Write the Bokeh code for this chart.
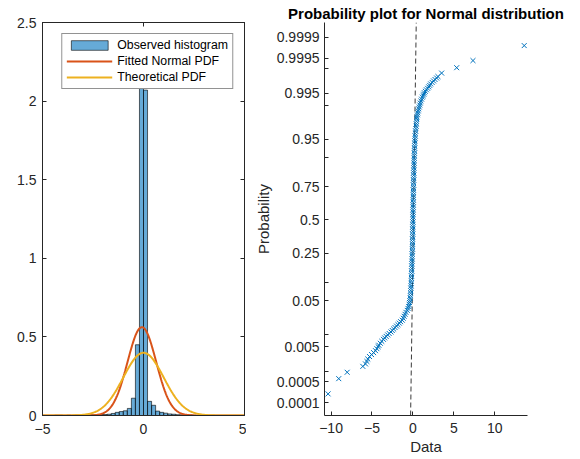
import numpy as np
from statistics import NormalDist
from bokeh.plotting import figure
from bokeh.layouts import row
from bokeh.models import Range1d, FixedTicker, LinearAxis, CustomJSTickFormatter
from bokeh.embed import file_html
from bokeh.resources import INLINE

# ---------------- data: left panel (histogram, pdf density) ----------------
bin_width = 0.2
hist_first_edge = -4.4
hist_density = [0.002, 0.002, 0.0, 0.002, 0.0, 0.002, 0.0, 0.004, 0.002, 0.004,
                0.004, 0.006, 0.006, 0.008, 0.013, 0.02, 0.025, 0.03, 0.045, 0.11,
                0.45, 2.2, 2.07, 0.09, 0.065, 0.028, 0.02, 0.015, 0.01, 0.008,
                0.005, 0.004, 0.002, 0.004, 0.002, 0.0, 0.002]
fitted_mu = -0.08
fitted_sigma = 0.71
theor_mu = 0.0
theor_sigma = 1.0
left_xticks = [-5, 0, 5]
left_yticks = [0, 0.5, 1, 1.5, 2, 2.5]

# ---------------- data: right panel (normal probability plot) ----------------
lower_quantile = [-3.54, -3.23, -3.10, -2.98, -2.93, -2.88, -2.83, -2.78, -2.74, -2.70,
                  -2.66, -2.62, -2.58, -2.55, -2.51, -2.47, -2.43, -2.40, -2.37, -2.34,
                  -2.31, -2.28, -2.25, -2.22, -2.19, -2.16, -2.13, -2.10, -2.07, -2.04,
                  -2.00, -1.96, -1.92, -1.88, -1.84, -1.80, -1.76, -1.72, -1.68, -1.64]
lower_data = [-10.36, -9.06, -8.03, -6.12, -5.79, -5.62, -5.51, -5.30, -5.05, -4.80,
              -4.57, -4.40, -4.25, -4.16, -3.98, -3.80, -3.60, -3.45, -3.27, -3.08,
              -2.90, -2.68, -2.52, -2.35, -2.18, -2.00, -1.83, -1.66, -1.50, -1.30,
              -1.18, -1.07, -0.96, -0.85, -0.69, -0.60, -0.52, -0.46, -0.41, -0.37]
center_quantile = [-1.59, -1.54, -1.49, -1.44, -1.39, -1.34, -1.29, -1.24, -1.19, -1.14,
                   -1.09, -1.04, -0.99, -0.94, -0.89, -0.84, -0.79, -0.74, -0.69, -0.64,
                   -0.59, -0.54, -0.49, -0.44, -0.39, -0.34, -0.29, -0.24, -0.19, -0.14,
                   -0.09, -0.04, 0.01, 0.06, 0.11, 0.16, 0.21, 0.26, 0.31, 0.36,
                   0.41, 0.46, 0.51, 0.56, 0.61, 0.66, 0.71, 0.76, 0.81, 0.86,
                   0.91, 0.96, 1.01, 1.06, 1.11, 1.16, 1.21, 1.26, 1.31, 1.36,
                   1.41, 1.46, 1.51, 1.56, 1.61, 1.66, 1.71, 1.76, 1.81, 1.86,
                   1.91, 1.96, 2.01, 2.06]
center_data = [-0.33, -0.30, -0.28, -0.26, -0.24, -0.22, -0.21, -0.19, -0.18, -0.17,
               -0.16, -0.15, -0.14, -0.13, -0.12, -0.11, -0.10, -0.09, -0.08, -0.07,
               -0.06, -0.06, -0.05, -0.04, -0.04, -0.03, -0.03, -0.02, -0.02, -0.01,
               -0.01, 0.00, 0.00, 0.01, 0.01, 0.02, 0.02, 0.03, 0.03, 0.04,
               0.04, 0.05, 0.05, 0.06, 0.06, 0.07, 0.07, 0.08, 0.08, 0.09,
               0.10, 0.10, 0.11, 0.12, 0.13, 0.14, 0.15, 0.16, 0.17, 0.18,
               0.19, 0.20, 0.21, 0.23, 0.24, 0.26, 0.28, 0.30, 0.33, 0.36,
               0.39, 0.42, 0.44, 0.47]
upper_quantile = [2.10, 2.14, 2.18, 2.22, 2.26, 2.30, 2.34, 2.38, 2.42, 2.46,
                  2.50, 2.53, 2.56, 2.59, 2.62, 2.65, 2.68, 2.71, 2.74, 2.77,
                  2.80, 2.83, 2.86, 2.89, 2.92, 2.99, 3.10, 3.245, 3.55]
upper_data = [0.50, 0.55, 0.60, 0.65, 0.72, 0.78, 0.84, 0.90, 0.98, 1.06,
              1.15, 1.25, 1.33, 1.40, 1.52, 1.65, 1.80, 1.93, 2.05, 2.17,
              2.35, 2.52, 2.70, 2.90, 3.06, 3.51, 5.35, 7.34, 13.6]
ref_intercept = 0.062
ref_slope = 0.086
prob_major = [0.0001, 0.0005, 0.005, 0.05, 0.25, 0.5, 0.75, 0.95, 0.995, 0.9995, 0.9999]
prob_labels = ["0.0001", "0.0005", "0.005", "0.05", "0.25", "0.5", "0.75", "0.95",
               "0.995", "0.9995", "0.9999"]
prob_minor = [0.001, 0.01, 0.1, 0.9, 0.99, 0.999]
right_xticks = [-10, -5, 0, 5, 10]

FONT = "Liberation Sans"
AX = "#262626"


def style_axis(ax, tick_size="14px"):
    ax.axis_line_color = AX
    ax.axis_line_width = 1
    ax.major_tick_line_color = AX
    ax.major_tick_in = 4
    ax.major_tick_out = 0
    ax.minor_tick_line_color = None
    ax.major_label_text_font = FONT
    ax.major_label_text_font_size = tick_size
    ax.major_label_text_color = AX
    ax.axis_label_text_font = FONT
    ax.axis_label_text_font_size = "15px"
    ax.axis_label_text_font_style = "normal"
    ax.axis_label_text_color = AX


# ---------------- left figure ----------------
p1 = figure(width=246, height=458, x_range=Range1d(-5, 5), y_range=Range1d(0, 2.5),
            output_backend="svg", toolbar_location=None,
            min_border_left=42, min_border_right=2, min_border_top=22, min_border_bottom=43)
p1.grid.visible = False
p1.outline_line_color = AX
p1.background_fill_color = "white"
p1.border_fill_color = "white"

n = len(hist_density)
lefts = hist_first_edge + bin_width * np.arange(n)
rights = lefts + bin_width
p1.quad(left=lefts, right=rights, bottom=0, top=hist_density,
        fill_color="#0072BD", fill_alpha=0.6, line_color="#000000", line_width=0.6,
        legend_label="Observed histogram")

xg = np.linspace(-5, 5, 401)
fit_pdf = np.array([NormalDist(fitted_mu, fitted_sigma).pdf(v) for v in xg])
theo_pdf = np.array([NormalDist(theor_mu, theor_sigma).pdf(v) for v in xg])
p1.line(xg, fit_pdf, line_color="#D95319", line_width=2, legend_label="Fitted Normal PDF")
p1.line(xg, theo_pdf, line_color="#EDB120", line_width=2, legend_label="Theoretical PDF")

p1.xaxis.ticker = FixedTicker(ticks=left_xticks)
p1.yaxis.ticker = FixedTicker(ticks=left_yticks)
p1.yaxis.formatter = CustomJSTickFormatter(code="return tick.toString();")
style_axis(p1.xaxis[0])
style_axis(p1.yaxis[0])
p1.xaxis.major_label_standoff = 8
p1.yaxis.major_label_standoff = 6

top_ax = LinearAxis(ticker=FixedTicker(ticks=left_xticks),
                    formatter=CustomJSTickFormatter(code="return '';"))
style_axis(top_ax)
top_ax.major_label_standoff = 0
p1.add_layout(top_ax, "above")
right_ax = LinearAxis(ticker=FixedTicker(ticks=left_yticks),
                      formatter=CustomJSTickFormatter(code="return '';"))
style_axis(right_ax)
right_ax.major_label_standoff = 0
p1.add_layout(right_ax, "right")

lg = p1.legend[0]
lg.location = "top_right"
lg.margin = 11
lg.padding = 4
lg.spacing = 2
lg.glyph_width = 46
lg.glyph_height = 12
lg.label_height = 12
lg.label_standoff = 5
lg.label_text_font = FONT
lg.label_text_font_size = "12.3px"
lg.label_text_color = "#000000"
lg.border_line_color = AX
lg.border_line_width = 0.8
lg.background_fill_alpha = 1.0

# ---------------- right figure ----------------
nd = NormalDist()
z_major = [nd.inv_cdf(p) for p in prob_major]
z_minor = [nd.inv_cdf(p) for p in prob_minor]

p2 = figure(width=334, height=458, x_range=Range1d(-10.8, 14.0), y_range=Range1d(-3.98, 4.02),
            output_backend="svg", toolbar_location=None,
            min_border_left=78, min_border_right=53, min_border_top=22, min_border_bottom=43)
p2.grid.visible = False
p2.outline_line_color = None
p2.background_fill_color = "white"
p2.border_fill_color = "white"

z_line = np.array([-3.98, 4.02])
p2.line(ref_intercept + ref_slope * z_line, z_line, line_color="#3a3a3a",
        line_width=1, line_dash="5 3")

all_x = lower_data + center_data + upper_data
all_z = lower_quantile + center_quantile + upper_quantile
p2.scatter(all_x, all_z, marker="x", size=7, line_width=1, color="#0072BD")

p2.xaxis.ticker = FixedTicker(ticks=right_xticks)
p2.yaxis.ticker = FixedTicker(ticks=z_major, minor_ticks=z_minor)
p2.yaxis.formatter = CustomJSTickFormatter(
    args=dict(zs=z_major, labs=prob_labels),
    code="""let b = 0;
for (let i = 0; i < zs.length; i++) { if (Math.abs(zs[i] - tick) < Math.abs(zs[b] - tick)) b = i; }
return labs[b];""")
style_axis(p2.xaxis[0])
style_axis(p2.yaxis[0])
p2.yaxis.minor_tick_line_color = AX
p2.yaxis.minor_tick_in = 4
p2.yaxis.minor_tick_out = 0
p2.xaxis.major_label_standoff = 7
p2.yaxis.major_label_standoff = 5
p2.xaxis.axis_label = "Data"
p2.yaxis.axis_label = "Probability"
p2.xaxis.axis_label_standoff = 2
p2.yaxis.axis_label_standoff = 2

p2.title.text = "Probability plot for Normal distribution"
p2.title.align = "center"
p2.title.text_font = FONT
p2.title.text_font_size = "15px"
p2.title.text_font_style = "bold"
p2.title.text_color = "#000000"
p2.title.standoff = 2

layout = row(p1, p2)
open("out.html", "w").write(file_html(layout, INLINE))
